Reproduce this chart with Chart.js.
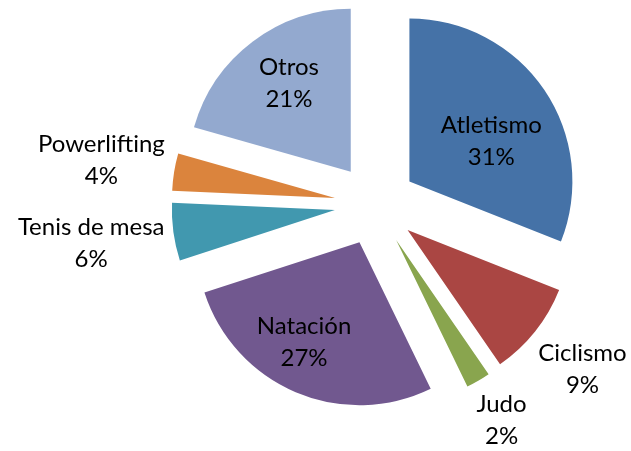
<!DOCTYPE html>
<html>
<head>
<meta charset="utf-8">
<title>Deportes</title>
<script src="https://cdn.jsdelivr.net/npm/chart.js@4.4.1/dist/chart.umd.min.js"></script>
<style>
  body{margin:0;background:#fff;}
  #container{width:631px;height:451px;}
</style>
</head>
<body>
<div id="container"><canvas id="myChart" width="631" height="451"></canvas></div>
<script>
// data (share of each sport, in %)
var label = ['Atletismo', 'Ciclismo', 'Judo', 'Natación', 'Tenis de mesa', 'Powerlifting', 'Otros'];
var data = [31.0, 9.4, 2.4, 27.2, 5.7, 3.7, 20.6];
var color = ['#4572A7', '#AA4643', '#89A54E', '#71588F', '#4198AF', '#DB843D', '#93A9CF'];

var EXPLODE = 41; // how far every slice is pulled out
var LINE = 32; // line height of the labels
var GAP = 6; // space between slice and outside label
// inside labels for the big slices: [fraction of radius, angle nudge in degrees]
var insideAt = {0: [0.56, 8], 3: [0.70, 6], 6: [0.66, 2]};

function start(){
  //move each slice out along its middle angle
  var explodePlugin = {
    id: 'explode',
    afterDatasetsUpdate: function(chart){
      chart.getDatasetMeta(0).data.forEach(function(arc){
        var mid = (arc.startAngle + arc.endAngle) / 2;
        arc.x += EXPLODE * Math.cos(mid);
        arc.y += EXPLODE * Math.sin(mid);
      });
    }
  };
  //name + percent on every slice
  var labelPlugin = {
    id: 'sliceLabels',
    afterDatasetsDraw: function(chart){
      var ctx = chart.ctx;
      var total = data.reduce(function(a, b){ return a + b; }, 0);
      ctx.save();
      ctx.font = '24px Lato';
      ctx.fillStyle = '#000';
      ctx.textAlign = 'center';
      ctx.textBaseline = 'middle';
      chart.getDatasetMeta(0).data.forEach(function(arc, i){
        var pct = Math.round(data[i] / total * 100) + '%';
        var mid = (arc.startAngle + arc.endAngle) / 2;
        var cx, cy;
        if (insideAt[i]) {
          var r = arc.outerRadius * insideAt[i][0];
          var a = mid + insideAt[i][1] * Math.PI / 180;
          cx = arc.x + r * Math.cos(a);
          cy = arc.y + r * Math.sin(a);
        } else {
          var w = Math.max(ctx.measureText(label[i]).width, ctx.measureText(pct).width);
          var ext = Math.abs(Math.cos(mid)) * w / 2 + Math.abs(Math.sin(mid)) * LINE;
          var d = arc.outerRadius + GAP + ext;
          cx = arc.x + d * Math.cos(mid);
          cy = arc.y + d * Math.sin(mid);
        }
        ctx.fillText(label[i], cx, cy - LINE / 2);
        ctx.fillText(pct, cx, cy + LINE / 2);
      });
      ctx.restore();
    }
  };

  Chart.defaults.font.family = 'Lato';
  var ctx = document.getElementById('myChart').getContext('2d');
  var myChart = new Chart(ctx, {
    type: 'pie',
    data: {
      labels: label,
      datasets: [{
        data: data,
        backgroundColor: color,
        borderWidth: 0,
        clip: false
      }]
    },
    options: {
      responsive: false,
      animation: false,
      radius: 163,
      layout: { padding: { left: 120, right: 0, top: 0, bottom: 42 } },
      plugins: {
        legend: { display: false },
        tooltip: { enabled: false }
      }
    },
    plugins: [explodePlugin, labelPlugin]
  });
}
start();
</script>
</body>
</html>
